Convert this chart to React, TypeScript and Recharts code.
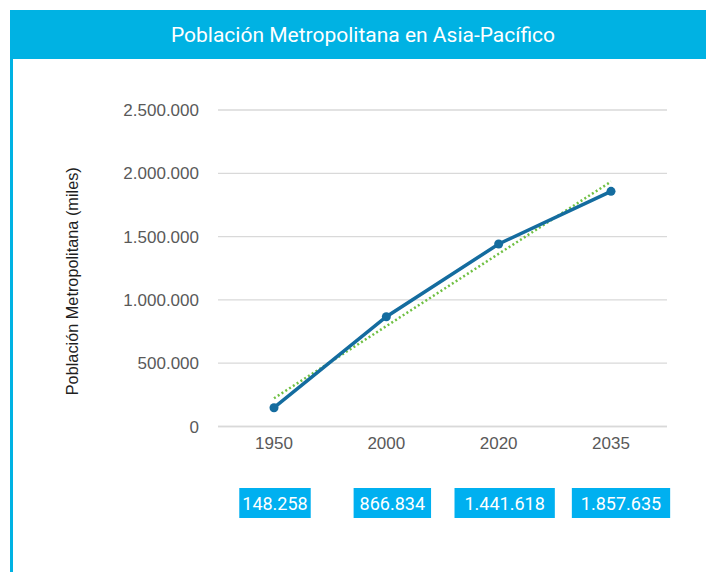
import React from "react";
import { LineChart, Line, XAxis, YAxis, CartesianGrid } from "recharts";

// Data
const years = ["1950", "2000", "2020", "2035"];
const population = [148258, 866834, 1441618, 1857635];
const trend = [223000, 793000, 1364000, 1934000]; // linear trendline
const yTicks = [0, 500000, 1000000, 1500000, 2000000, 2500000];

const data = years.map((year, i) => ({
  year,
  population: population[i],
  trend: trend[i],
}));

// value boxes under the axis are hand placed in the original
const boxShift = [1, 6, 6, 10];
const boxPad = [3, 6, 10, 9];

const fmt = (v: number) => String(v).replace(/\B(?=(\d{3})+(?!\d))/g, ".");

const textWidth = (s: string, size: number) =>
  s.split("").reduce((w, c) => w + (c === "." ? 0.264 : 0.562) * size, 0);

const axisFont = "'Liberation Sans', Arial, sans-serif";

const XTick = (props: any) => {
  const { x, y, payload } = props;
  const i = years.indexOf(payload.value);
  const label = fmt(population[i]);
  const w = textWidth(label, 18) + 2 * boxPad[i];
  const cx = x + boxShift[i];
  return (
    <g>
      <text x={x} y={y + 22} textAnchor="middle" fill="#595959" fontSize={17} fontFamily={axisFont}>
        {payload.value}
      </text>
      <rect x={cx - w / 2} y={y + 61.5} width={w} height={30} fill="#00B0F0" />
      <text x={cx} y={y + 83} textAnchor="middle" fill="#ffffff" fontSize={18} fontFamily="Roboto, sans-serif">
        {label}
      </text>
    </g>
  );
};

const YLabel = (props: any) => {
  const { viewBox } = props;
  const x = viewBox.x + 72;
  const y = viewBox.y + viewBox.height / 2 + 13;
  return (
    <text
      transform={`translate(${x},${y}) rotate(-90)`}
      textAnchor="middle"
      dominantBaseline="central"
      fill="#1f1f1f"
      fontSize={16.3}
      fontFamily={axisFont}
    >
      Población Metropolitana (miles)
    </text>
  );
};

const App = () => {
  return (
    <div style={{ position: "absolute", left: 0, top: 0, width: 706, height: 572, background: "#fff", overflow: "hidden" }}>
      <div style={{ position: "absolute", left: 0, top: 0 }}>
        <LineChart width={706} height={572} data={data} margin={{ top: 110, right: 39, bottom: 45.5, left: 0 }}>
          <CartesianGrid vertical={false} stroke="#d9d9d9" strokeWidth={1.3} />
          <XAxis
            dataKey="year"
            padding={{ left: 56, right: 56 }}
            height={100}
            interval={0}
            tickSize={0}
            tickMargin={0}
            tickLine={false}
            axisLine={{ stroke: "#d9d9d9", strokeWidth: 1.3 }}
            tick={<XTick />}
          />
          <YAxis
            width={218}
            domain={[0, 2500000]}
            ticks={yTicks}
            tickFormatter={fmt}
            tickSize={0}
            tickMargin={19}
            tickLine={false}
            axisLine={false}
            tick={{ fontSize: 17, fill: "#595959", fontFamily: axisFont }}
            label={YLabel}
          />
          <Line
            dataKey="trend"
            stroke="#70C043"
            strokeWidth={2.5}
            strokeDasharray="2 2.5"
            dot={false}
            isAnimationActive={false}
          />
          <Line
            dataKey="population"
            stroke="#146c9f"
            strokeWidth={3.5}
            dot={{ r: 4.5, fill: "#146c9f", stroke: "#146c9f", strokeWidth: 0 }}
            isAnimationActive={false}
          />
        </LineChart>
      </div>
      {/* title band and left border */}
      <div
        style={{
          position: "absolute",
          left: 10,
          top: 10,
          width: 696,
          height: 49,
          background: "#00B2E3",
          color: "#fff",
          fontFamily: "Roboto, sans-serif",
          fontSize: 21,
          display: "flex",
          alignItems: "center",
          justifyContent: "center",
          paddingLeft: 10,
          boxSizing: "border-box",
        }}
      >
        Población Metropolitana en Asia-Pacífico
      </div>
      <div style={{ position: "absolute", left: 10, top: 59, width: 3, height: 513, background: "#00B2E3" }} />
    </div>
  );
};

export default App;
